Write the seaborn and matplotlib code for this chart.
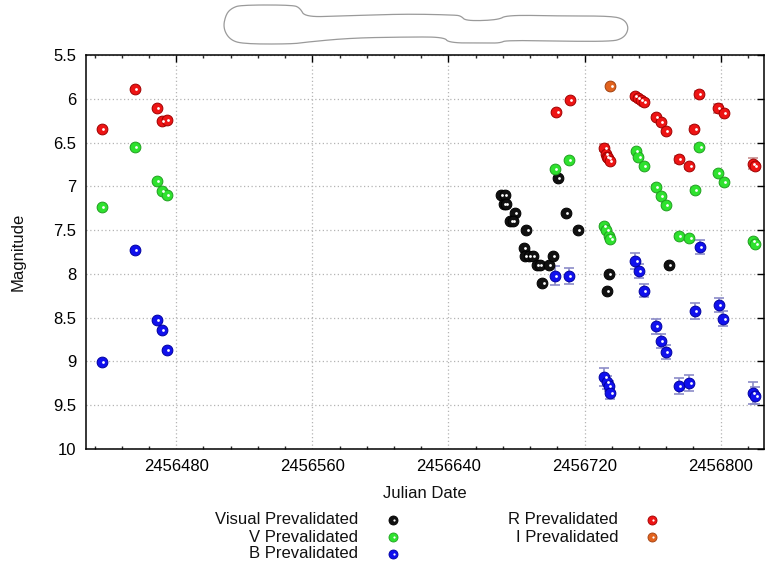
import numpy as np
import pandas as pd
import matplotlib
matplotlib.use("Agg")
import matplotlib.pyplot as plt
import matplotlib.transforms as mtransforms
from matplotlib.path import Path
from matplotlib.patches import PathPatch
from matplotlib.lines import Line2D
from matplotlib.ticker import MultipleLocator, FixedLocator
import seaborn as sns

# ---------------- data ----------------
vis_jd = [2456670.7, 2456673.0, 2456672.4, 2456674.0, 2456679.1, 2456676.4, 2456677.7,
          2456685.8, 2456684.2, 2456684.8, 2456687.1, 2456689.7, 2456692.0, 2456694.0,
          2456698.9, 2456701.2, 2456695.2, 2456704.2, 2456709.1, 2456715.9, 2456734.5,
          2456733.0, 2456769.7]
vis_mag = [7.10, 7.10, 7.20, 7.20, 7.30, 7.40, 7.40,
           7.50, 7.70, 7.80, 7.80, 7.80, 7.90, 7.90,
           7.90, 7.80, 8.10, 6.90, 7.30, 7.50, 8.00,
           8.20, 7.90]

v_jd = [2456436.4, 2456455.7, 2456468.7, 2456471.6, 2456474.7,
        2456702.8, 2456710.6,
        2456731.3, 2456732.9, 2456734.4, 2456735.2,
        2456750.0, 2456751.7, 2456754.9,
        2456761.8, 2456764.7, 2456767.8,
        2456775.6, 2456781.6,
        2456784.9, 2456787.5,
        2456798.6, 2456801.7,
        2456819.1, 2456820.5]
v_mag = [7.24, 6.555, 6.94, 7.05, 7.10,
         6.80, 6.70,
         7.45, 7.50, 7.57, 7.60,
         6.60, 6.67, 6.77,
         7.01, 7.11, 7.21,
         7.57, 7.59,
         7.04, 6.55,
         6.85, 6.95,
         7.63, 7.66]
v_err = [0.01, 0.01, 0.01, 0.01, 0.01,
         0.01, 0.01,
         0.02, 0.02, 0.02, 0.02,
         0.02, 0.02, 0.02,
         0.02, 0.02, 0.02,
         0.02, 0.02,
         0.02, 0.02,
         0.02, 0.02,
         0.02, 0.02]

b_jd = [2456436.4, 2456455.7, 2456468.7, 2456471.6, 2456474.7,
        2456702.8, 2456710.6,
        2456731.7, 2456733.3, 2456734.4, 2456735.2,
        2456749.9, 2456751.8, 2456754.9,
        2456761.8, 2456764.7, 2456767.8,
        2456775.6, 2456781.6,
        2456784.8, 2456787.9,
        2456798.8, 2456801.6,
        2456819.1, 2456820.5]
b_mag = [9.01, 7.73, 8.53, 8.64, 8.87,
         8.02, 8.02,
         9.18, 9.24, 9.28, 9.355,
         7.85, 7.97, 8.19,
         8.60, 8.77, 8.89,
         9.28, 9.25,
         8.42, 7.69,
         8.35, 8.51,
         9.36, 9.39]
b_err = [0.01, 0.01, 0.01, 0.01, 0.01,
         0.11, 0.09,
         0.10, 0.07, 0.06, 0.07,
         0.09, 0.08, 0.07,
         0.09, 0.08, 0.08,
         0.09, 0.09,
         0.09, 0.08,
         0.08, 0.09,
         0.13, 0.10]

r_jd = [2456436.4, 2456455.7, 2456468.7, 2456471.6, 2456474.7,
        2456703.5, 2456711.5,
        2456731.7, 2456732.5, 2456733.3, 2456734.0, 2456734.8,
        2456749.5, 2456751.2, 2456753.0, 2456754.9,
        2456761.8, 2456764.7, 2456767.8,
        2456775.6, 2456781.6,
        2456784.6, 2456787.3,
        2456798.2, 2456801.7,
        2456819.1, 2456820.0]
r_mag = [6.35, 5.89, 6.11, 6.25, 6.24,
         6.15, 6.01,
         6.56, 6.63, 6.66, 6.68, 6.71,
         5.97, 5.99, 6.01, 6.04,
         6.21, 6.27, 6.37,
         6.69, 6.77,
         6.34, 5.95,
         6.11, 6.16,
         6.74, 6.77]
r_err = [0.01, 0.01, 0.01, 0.01, 0.01,
         0.01, 0.01,
         0.04, 0.02, 0.02, 0.02, 0.02,
         0.02, 0.02, 0.03, 0.04,
         0.02, 0.02, 0.02,
         0.04, 0.03,
         0.03, 0.04,
         0.05, 0.03,
         0.06, 0.04]

i_jd = [2456735.2]
i_mag = [5.85]
i_err = [0.01]

band_names = ["Visual Prevalidated", "V Prevalidated", "B Prevalidated",
              "R Prevalidated", "I Prevalidated"]
band_colors = ["#111111", "#2ee22e", "#1010ee", "#ee1414", "#e2631e"]
band_edges = ["#000000", "#20a020", "#0000a0", "#a00000", "#a04010"]
band_ecolors = ["#808080", "#90c090", "#8c8cc8", "#c89090", "#c8a090"]

xticks = [2456480, 2456560, 2456640, 2456720, 2456800]
yticks = [5.5, 6, 6.5, 7, 7.5, 8, 8.5, 9, 9.5, 10]
ytick_labels = ["5.5", "6", "6.5", "7", "7.5", "8", "8.5", "9", "9.5", "10"]

frames = []
for name, jd, mag, err in [
    (band_names[0], vis_jd, vis_mag, [0.0] * len(vis_jd)),
    (band_names[1], v_jd, v_mag, v_err),
    (band_names[2], b_jd, b_mag, b_err),
    (band_names[3], r_jd, r_mag, r_err),
    (band_names[4], i_jd, i_mag, i_err),
]:
    frames.append(pd.DataFrame({"jd": jd, "mag": mag, "err": err, "band": name}))
df = pd.concat(frames, ignore_index=True)

# ---------------- figure ----------------
sns.set_theme(style="white")
plt.rcParams['font.family'] = ['Liberation Sans', 'DejaVu Sans']

W, H = 765, 567
fig = plt.figure(figsize=(W / 100, H / 100), dpi=100)
fig.patch.set_facecolor("white")
L, R, T, B = 86, 764, 55, 449
ax = fig.add_axes([L / W, 1 - B / H, (R - L) / W, (B - T) / H])
ax.set_facecolor("white")

white_off = mtransforms.ScaledTranslation(0.012, 0.0, fig.dpi_scale_trans)
for k, name in enumerate(band_names):
    sub = df[df["band"] == name]
    if (sub["err"] > 0.015).any():
        ax.errorbar(sub["jd"], sub["mag"], yerr=sub["err"], fmt="none",
                    ecolor=band_ecolors[k], elinewidth=1.2, capsize=3.5,
                    capthick=1.2, zorder=2)
    sns.scatterplot(data=sub, x="jd", y="mag", color=band_colors[k],
                    edgecolor=band_edges[k], linewidth=0.7, s=60,
                    ax=ax, legend=False, zorder=3)
    ax.scatter(sub["jd"], sub["mag"], s=4, c="white", linewidths=0,
               transform=ax.transData + white_off, zorder=4)

ax.set_xlim(2456427, 2456825.5)
ax.set_ylim(10, 5.5)
ax.xaxis.set_major_locator(FixedLocator(xticks))
ax.set_xticklabels([str(t) for t in xticks])
ax.xaxis.set_minor_locator(MultipleLocator(16))
ax.yaxis.set_major_locator(FixedLocator(yticks))
ax.set_yticklabels(ytick_labels)

ax.tick_params(axis="both", which="major", direction="in", length=5, width=1,
               top=True, right=True, labelsize=12, colors="black", pad=7)
ax.tick_params(axis="x", which="minor", direction="in", length=2.5, width=1,
               top=True, bottom=True)
for s in ax.spines.values():
    s.set_color("black")
    s.set_linewidth(1.1)

ax.grid(True, which="major", color="#b4b4b4", linestyle=(0, (1, 2)), linewidth=0.9)
ax.set_axisbelow(True)

ax.set_xlabel("Julian Date", fontsize=12, color="#111111")
ax.set_ylabel("Magnitude", fontsize=12, color="#111111")
ax.xaxis.set_label_coords(0.5, (B - 493) / (B - T))
ax.xaxis.label.set_va("center")
ax.yaxis.set_label_coords((18 - L) / (R - L), 0.5)
ax.yaxis.label.set_va("center")

# ---------------- legend (below plot) ----------------
leg_pos = [(358, 393, 520), (358, 393, 537), (358, 393, 554),
           (618, 652, 520), (618, 652, 537)]
for k, (tx, mx, yy) in enumerate(leg_pos):
    fig.text(tx / W, 1 - yy / H, band_names[k], ha="right", va="center",
             fontsize=12, color="#111111")
    fig.add_artist(Line2D([mx / W], [1 - yy / H], marker="o", linestyle="",
                          markersize=6.5, markerfacecolor=band_colors[k],
                          markeredgecolor=band_edges[k], markeredgewidth=0.6,
                          transform=fig.transFigure))
    fig.add_artist(Line2D([mx / W], [1 - yy / H], marker="o", linestyle="",
                          markersize=1.6, markerfacecolor="white",
                          markeredgewidth=0, transform=fig.transFigure + white_off))

# ---------------- redacted title outline ----------------
outline = [(241, 5), (293, 5), (300, 8), (305, 17), (341, 16), (371, 15), (410, 14),
           (455, 15), (461, 16), (466, 21), (498, 20), (507, 15), (561, 16), (610, 16),
           (624, 19), (629, 28), (624, 38), (610, 42), (507, 40), (500, 43), (488, 43),
           (449, 43), (444, 37), (405, 37), (351, 38), (307, 42), (293, 44), (244, 44),
           (230, 40), (223, 28), (226, 14), (232, 8)]
pts = np.array(outline, dtype=float)
for _ in range(3):
    nxt = np.roll(pts, -1, axis=0)
    q = 0.75 * pts + 0.25 * nxt
    r = 0.25 * pts + 0.75 * nxt
    pts = np.empty((2 * len(q), 2))
    pts[0::2] = q
    pts[1::2] = r
pts = np.vstack([pts, pts[:1]])
fx = pts[:, 0] / W
fy = 1 - pts[:, 1] / H
path = Path(np.column_stack([fx, fy]))
fig.add_artist(PathPatch(path, facecolor="none", edgecolor="#9a9a9a",
                         linewidth=0.9, transform=fig.transFigure))

fig.savefig("out.png", dpi=100, facecolor="white")
